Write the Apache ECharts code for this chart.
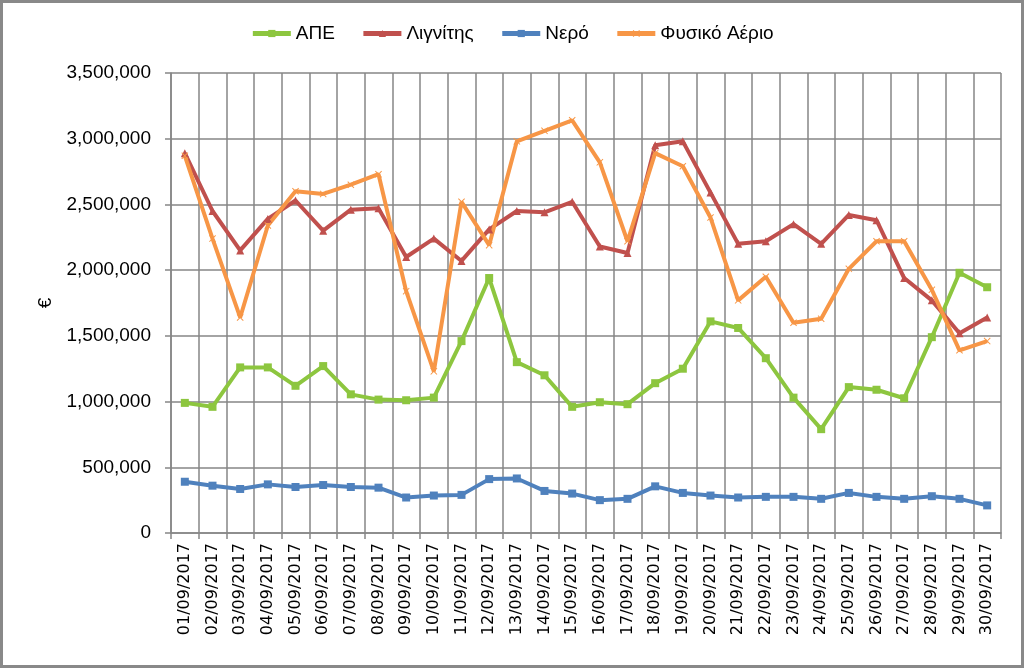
<!DOCTYPE html>
<html><head><meta charset="utf-8">
<script src="https://cdn.jsdelivr.net/npm/echarts@6/dist/echarts.min.js"></script>
<style>html,body{margin:0;padding:0;background:#fff}#c{width:1024px;height:668px}</style>
</head><body><div id="c"></div>
<script>
const categories = ['01/09/2017','02/09/2017','03/09/2017','04/09/2017','05/09/2017','06/09/2017','07/09/2017','08/09/2017','09/09/2017','10/09/2017','11/09/2017','12/09/2017','13/09/2017','14/09/2017','15/09/2017','16/09/2017','17/09/2017','18/09/2017','19/09/2017','20/09/2017','21/09/2017','22/09/2017','23/09/2017','24/09/2017','25/09/2017','26/09/2017','27/09/2017','28/09/2017','29/09/2017','30/09/2017'];
const ape = [990000,960000,1260000,1260000,1120000,1270000,1055000,1015000,1010000,1030000,1460000,1940000,1300000,1200000,960000,995000,980000,1140000,1250000,1610000,1560000,1330000,1030000,790000,1110000,1090000,1025000,1490000,1980000,1870000];
const lignite = [2890000,2450000,2150000,2390000,2530000,2300000,2460000,2470000,2100000,2240000,2070000,2310000,2450000,2440000,2520000,2180000,2130000,2950000,2980000,2590000,2200000,2220000,2350000,2200000,2420000,2380000,1940000,1770000,1520000,1640000];
const water = [390000,360000,335000,370000,350000,365000,350000,345000,270000,285000,290000,410000,415000,320000,300000,250000,260000,355000,305000,285000,270000,275000,275000,260000,305000,275000,260000,280000,260000,210000];
const gas = [2870000,2240000,1640000,2340000,2600000,2580000,2650000,2730000,1840000,1230000,2520000,2190000,2980000,3060000,3140000,2820000,2220000,2890000,2790000,2400000,1770000,1950000,1600000,1630000,2010000,2220000,2220000,1850000,1390000,1460000];
const seriesNames = ['ΑΠΕ','Λιγνίτης','Νερό','Φυσικό Αέριο'];

const chart = echarts.init(document.getElementById('c'));
const gridColor = '#868686';
const xPath = 'path://M1,0 L5,4 L9,0 L10,1 L6,5 L10,9 L9,10 L5,6 L1,10 L0,9 L4,5 L0,1 Z';
function mk(name, data, color, symbol, size) {
  return {name, type:'line', data, symbol, symbolSize:size, showSymbol:true,
    lineStyle:{color, width:4}, itemStyle:{color}, animation:false};
}
chart.setOption({
  animation:false,
  graphic:[{type:'rect', shape:{x:1.5,y:1.5,width:1021,height:665}, style:{fill:'none', stroke:'#898989', lineWidth:3}, z:-1}],
  legend:{top:19, left:'center', itemWidth:38, itemHeight:9, itemGap:26,
    lineStyle:{width:5},
    textStyle:{fontFamily:'Liberation Sans Narrow, Liberation Sans', fontSize:19, color:'#000'},
    data:seriesNames},
  grid:{left:171, right:23, top:73, bottom:135},
  xAxis:{type:'category', data:categories, boundaryGap:true,
    axisLine:{lineStyle:{color:gridColor, width:1.5}},
    axisTick:{show:true, length:6, lineStyle:{color:gridColor, width:1.5}},
    splitLine:{show:true, lineStyle:{color:gridColor, width:1.5}},
    axisLabel:{rotate:90, interval:0, fontFamily:'DejaVu Sans', fontSize:16, color:'#000', margin:10}},
  yAxis:{type:'value', min:0, max:3500000, interval:500000,
    name:'€', nameLocation:'middle', nameGap:116, nameRotate:90,
    nameTextStyle:{fontFamily:'Liberation Sans', fontSize:19, color:'#000'},
    axisLine:{show:true, lineStyle:{color:gridColor, width:1.5}},
    axisTick:{show:true, length:6, lineStyle:{color:gridColor, width:1.5}},
    splitLine:{show:true, lineStyle:{color:gridColor, width:1.5}},
    axisLabel:{fontFamily:'Liberation Sans', fontSize:19, color:'#000', margin:20,
      formatter:v=>v.toLocaleString('en-US')}},
  series:[
    mk(seriesNames[0], ape, '#8DC63F', 'rect', 8),
    mk(seriesNames[1], lignite, '#C0504D', 'triangle', 8),
    mk(seriesNames[2], water, '#4F81BD', 'rect', 8),
    mk(seriesNames[3], gas, '#F79646', xPath, 7)
  ]
});
</script></body></html>
